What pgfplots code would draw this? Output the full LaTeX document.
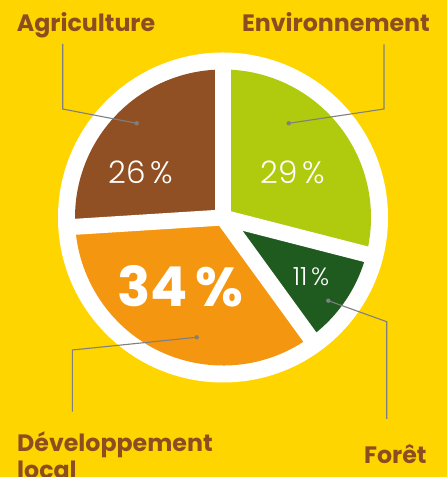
\documentclass[border=0pt]{standalone}
\usepackage{pgfplots}
\usepackage{pgfplotstable}
\pgfplotsset{compat=1.18}
\usepackage{fontspec}
\setmainfont{Poppins}
\IfFontExistsTF{Poppins Light}{\newfontfamily\light{Poppins Light}}{\newfontfamily\light{Poppins}}

\definecolor{bg}{HTML}{FFD500}
\definecolor{cAgri}{HTML}{915023}
\definecolor{cEnv}{HTML}{B0CA0E}
\definecolor{cFor}{HTML}{1F5A1F}
\definecolor{cDev}{HTML}{F4960F}
\definecolor{txt}{HTML}{8C4E20}
\definecolor{lead}{HTML}{7F7F7F}

% shares in percent, clockwise from the top
\pgfplotstableread{
name value
Environnement 29
Foret 11
Developpement 34
Agriculture 26
}\piedata

\pgfplotstablegetelem{0}{value}\of\piedata \let\vA\pgfplotsretval
\pgfplotstablegetelem{1}{value}\of\piedata \let\vB\pgfplotsretval
\pgfplotstablegetelem{2}{value}\of\piedata \let\vC\pgfplotsretval
\pgfplotstablegetelem{3}{value}\of\piedata \let\vD\pgfplotsretval
\pgfmathsetmacro\aA{90}
\pgfmathsetmacro\aB{\aA-3.6*\vA}
\pgfmathsetmacro\aC{\aB-3.6*\vB}
\pgfmathsetmacro\aD{\aC-3.6*\vC}
\pgfmathsetmacro\aE{\aD-3.6*\vD}

\def\R{148bp}
\tikzset{sep/.style={white, line width=16bp},
  lab/.style={txt, font=\fontsize{23.7bp}{28bp}\selectfont\bfseries, inner sep=0pt}}

\begin{document}
\begin{tikzpicture}
\begin{axis}[hide axis, x=1bp, y=1bp,
    xmin=0, xmax=447, ymin=0, ymax=477, clip=false]
  \coordinate (bl) at (axis cs:0,0);
  \coordinate (tr) at (axis cs:447,477);
  \fill[bg] (axis cs:0,0) rectangle (axis cs:447,477);
  \fill[white] (axis cs:223,259.5) circle[radius=165bp];
  % slices
  \fill[cEnv] (axis cs:223,259.5) -- ++(\aA:\R) arc[start angle=\aA, end angle=\aB, radius=\R] -- cycle;
  \fill[cFor] (axis cs:223,259.5) -- ++(\aB:\R) arc[start angle=\aB, end angle=\aC, radius=\R] -- cycle;
  \fill[cDev] (axis cs:223,259.5) -- ++(\aC:\R) arc[start angle=\aC, end angle=\aD, radius=\R] -- cycle;
  \fill[cAgri] (axis cs:223,259.5) -- ++(\aD:\R) arc[start angle=\aD, end angle=\aE, radius=\R] -- cycle;
  % white separators
  \draw[sep] (axis cs:223,259.5) -- ++(\aA:158bp);
  \draw[sep] (axis cs:223,259.5) -- ++(\aB:158bp);
  \draw[sep] (axis cs:223,259.5) -- ++(\aC:158bp);
  \draw[sep] (axis cs:223,259.5) -- ++(\aD:158bp);
  \fill[white] (axis cs:223,259.5) circle[radius=8bp];
  % leader lines
  \draw[lead, line width=1.1bp] (axis cs:62.7,433) -- (axis cs:62.7,368) -- (axis cs:136.7,353.7);
  \fill[lead] (axis cs:136.7,353.7) circle[radius=2.2bp];
  \draw[lead, line width=1.1bp] (axis cs:384,432.7) -- (axis cs:384,368) -- (axis cs:288.7,353.7);
  \fill[lead] (axis cs:288.7,353.7) circle[radius=2.2bp];
  \draw[lead, line width=1.1bp] (axis cs:328.3,176.3) -- (axis cs:386.7,155.3) -- (axis cs:386.7,58);
  \fill[lead] (axis cs:328.3,176.3) circle[radius=2.2bp];
  \draw[lead, line width=1.1bp] (axis cs:196.7,139.7) -- (axis cs:72.3,127) -- (axis cs:72.3,65.3);
  \fill[lead] (axis cs:196.7,139.7) circle[radius=2.2bp];
  % percentages
  \node[white, anchor=base, font=\fontsize{31bp}{36bp}\light, inner sep=0pt]
    at (axis cs:140.5,293) {26\hspace{0.15em}\%};
  \node[white, anchor=base, font=\fontsize{31bp}{36bp}\light, inner sep=0pt]
    at (axis cs:293,293) {29\hspace{0.15em}\%};
  \node[white, anchor=base, font=\fontsize{25bp}{30bp}\light, inner sep=0pt]
    at (axis cs:311,191) {11\hspace{0.15em}\%};
  \node[white, anchor=base, font=\fontsize{55bp}{60bp}\selectfont\bfseries, inner sep=0pt]
    at (axis cs:180.5,170.3) {34\hspace{0.15em}\%};
  % category labels
  \node[lab, anchor=base west] at (axis cs:16.7,445.3) {Agriculture};
  \node[lab, anchor=base east] at (axis cs:430,445.3) {Environnement};
  \node[lab, anchor=base west] at (axis cs:17,25.3) {Développement};
  \node[lab, anchor=base west] at (axis cs:17,-1) {local};
  \node[lab, anchor=base east] at (axis cs:426.7,14) {Forêt};
\end{axis}
\pgfresetboundingbox
\useasboundingbox (bl) rectangle (tr);
\end{tikzpicture}
\end{document}
